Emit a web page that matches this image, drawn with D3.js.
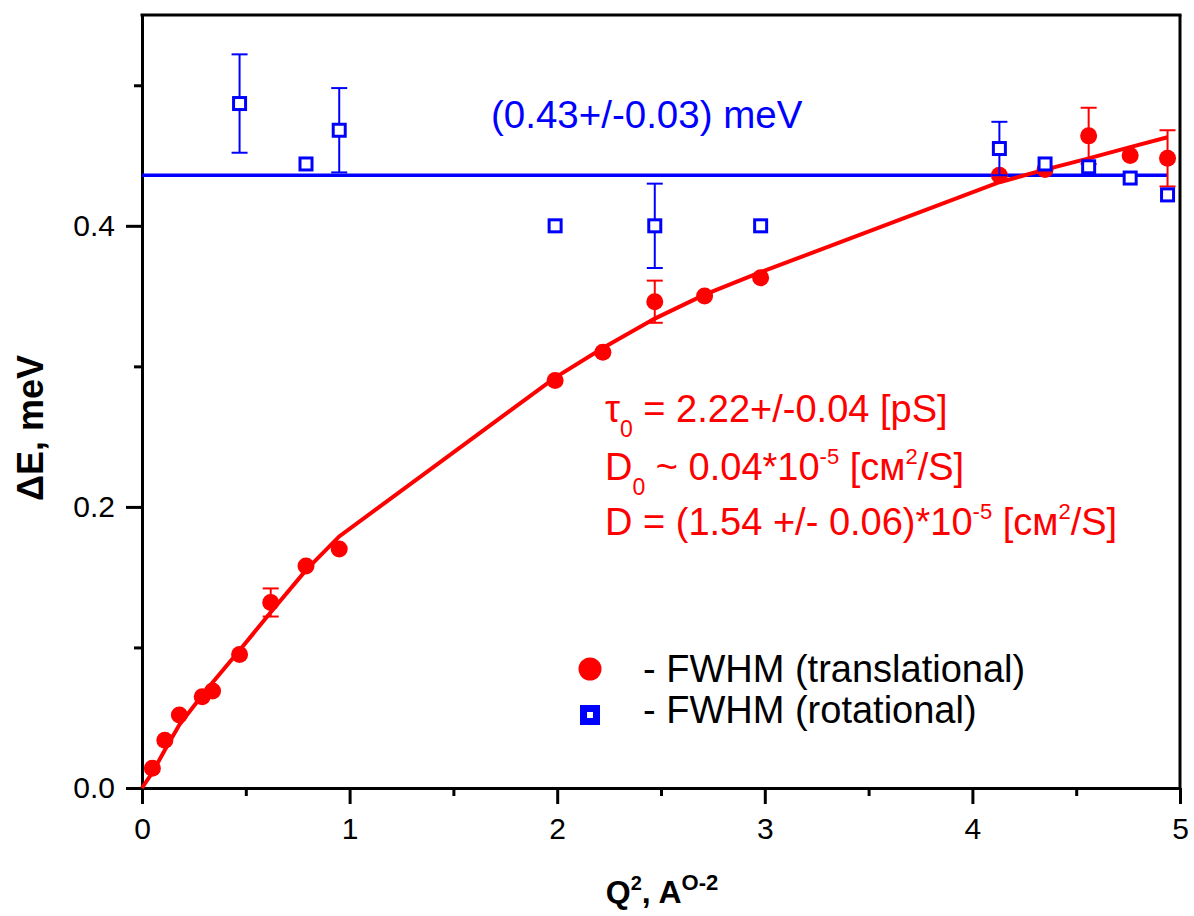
<!DOCTYPE html>
<html>
<head>
<meta charset="utf-8">
<script src="https://cdn.jsdelivr.net/npm/d3@7"></script>
<style>
  body { margin: 0; background: #fff; }
  svg { font-family: "Liberation Sans", Arial, sans-serif; }
</style>
</head>
<body>
<svg id="chart" width="1194" height="916"></svg>
<script>
// translational FWHM (red circles)
const transX = [0.05, 0.11, 0.18, 0.29, 0.34, 0.47, 0.62, 0.79, 0.95, 1.99, 2.22, 2.47, 2.71, 2.98, 4.13, 4.35, 4.56, 4.76, 4.94];
const transY = [0.014, 0.034, 0.052, 0.065, 0.069, 0.095, 0.132, 0.158, 0.170, 0.290, 0.310, 0.346, 0.350, 0.363, 0.436, 0.440, 0.464, 0.450, 0.448];
const transErr = [0, 0, 0, 0, 0, 0, 0.010, 0, 0, 0, 0, 0.015, 0, 0, 0, 0, 0.020, 0, 0.020];

// rotational FWHM (blue squares)
const rotX = [0.47, 0.79, 0.95, 1.99, 2.47, 2.98, 4.13, 4.35, 4.56, 4.76, 4.94];
const rotY = [0.487, 0.444, 0.468, 0.400, 0.400, 0.400, 0.455, 0.444, 0.442, 0.434, 0.422];
const rotErr = [0.035, 0, 0.030, 0, 0.030, 0, 0.019, 0, 0, 0, 0];

// fit curve for translational width
const fitX = [0, 0.05, 0.11, 0.18, 0.29, 0.34, 0.47, 0.62, 0.79, 0.95, 1.99, 2.22, 2.47, 2.71, 2.98, 4.13, 4.35, 4.56, 4.76, 4.94];
const fitY = [0, 0.011, 0.027, 0.045, 0.066, 0.075, 0.098, 0.125, 0.155, 0.179, 0.292, 0.313, 0.334, 0.351, 0.367, 0.431, 0.440, 0.448, 0.456, 0.463];

// constant level for rotational width
const rotLevel = 0.436;
const rotLevelX = [0, 4.94];

const xTicks = [0, 1, 2, 3, 4, 5];
const xMinor = [0.5, 1.5, 2.5, 3.5, 4.5];
const yTicks = [0, 0.2, 0.4];
const yMinor = [0.1, 0.3, 0.5];

const mLeft = 142, mRight = 1180, mTop = 15, mBottom = 788;
const red = '#ff0000', blue = '#0000ff';

const svg = d3.select('#chart');

const x = d3.scaleLinear().domain([0, 5]).range([mLeft, mRight]);
const y = d3.scaleLinear().domain([0, 0.55]).range([mBottom, mTop]);

// axes
svg.append('g')
    .attr('transform', `translate(0,${mBottom})`)
    .call(d3.axisBottom(x).tickValues(xTicks).tickFormat(d3.format('d'))
        .tickSize(16).tickSizeOuter(0).tickPadding(14));
svg.append('g')
    .attr('transform', `translate(0,${mBottom})`)
    .call(d3.axisBottom(x).tickValues(xMinor).tickFormat('').tickSize(8).tickSizeOuter(0))
    .select('.domain').remove();

svg.append('g')
    .attr('transform', `translate(${mLeft},0)`)
    .call(d3.axisLeft(y).tickValues(yTicks).tickFormat(d3.format('.1f'))
        .tickSize(16).tickSizeOuter(0).tickPadding(11));
svg.append('g')
    .attr('transform', `translate(${mLeft},0)`)
    .call(d3.axisLeft(y).tickValues(yMinor).tickFormat('').tickSize(8).tickSizeOuter(0))
    .select('.domain').remove();

svg.selectAll('.domain').attr('stroke', '#000').attr('stroke-width', 3);
svg.selectAll('.tick line').attr('stroke', '#000').attr('stroke-width', 3);
svg.selectAll('.tick text').attr('fill', '#000').style('font-size', '30px')
    .style('font-family', '"Liberation Sans", Arial, sans-serif');

// frame top & right
svg.append('line').attr('x1', mLeft - 1.5).attr('x2', mRight + 1.5).attr('y1', mTop).attr('y2', mTop)
    .attr('stroke', '#000').attr('stroke-width', 3);
svg.append('line').attr('x1', mRight).attr('x2', mRight).attr('y1', mTop).attr('y2', mBottom)
    .attr('stroke', '#000').attr('stroke-width', 3);

// rotational level line
svg.append('line')
    .attr('x1', x(rotLevelX[0])).attr('x2', x(rotLevelX[1]))
    .attr('y1', y(rotLevel)).attr('y2', y(rotLevel))
    .attr('stroke', blue).attr('stroke-width', 3.5);

// fit curve
const line = d3.line().x(d => x(d[0])).y(d => y(d[1]));
svg.append('path')
    .datum(fitX.map((v, i) => [v, fitY[i]]))
    .attr('d', line)
    .attr('fill', 'none').attr('stroke', red).attr('stroke-width', 4);

function errBars(xs, ys, es, color) {
    const g = svg.append('g').attr('stroke', color).attr('stroke-width', 2);
    xs.forEach((v, i) => {
        if (!es[i]) return;
        const cx = x(v), y1 = y(ys[i] - es[i]), y2 = y(ys[i] + es[i]);
        g.append('line').attr('x1', cx).attr('x2', cx).attr('y1', y1).attr('y2', y2);
        g.append('line').attr('x1', cx - 8).attr('x2', cx + 8).attr('y1', y1).attr('y2', y1);
        g.append('line').attr('x1', cx - 8).attr('x2', cx + 8).attr('y1', y2).attr('y2', y2);
    });
}

errBars(transX, transY, transErr, red);
svg.append('g').selectAll('circle')
    .data(transX.map((v, i) => [v, transY[i]]))
    .enter().append('circle')
    .attr('cx', d => x(d[0])).attr('cy', d => y(d[1]))
    .attr('r', 8.5).attr('fill', red);

errBars(rotX, rotY, rotErr, blue);
svg.append('g').selectAll('rect')
    .data(rotX.map((v, i) => [v, rotY[i]]))
    .enter().append('rect')
    .attr('x', d => x(d[0]) - 6).attr('y', d => y(d[1]) - 6)
    .attr('width', 12).attr('height', 12)
    .attr('fill', '#fff').attr('stroke', blue).attr('stroke-width', 3);

// axis titles
svg.append('text')
    .attr('x', 662).attr('y', 903)
    .attr('text-anchor', 'middle')
    .style('font-size', '32px').style('font-weight', 'bold')
    .html('Q<tspan dy="-13" font-size="20">2</tspan><tspan dy="13">, A</tspan><tspan dy="-13" font-size="22">O-2</tspan>');

svg.append('text')
    .attr('transform', 'translate(43,428) rotate(-90)')
    .attr('text-anchor', 'middle')
    .style('font-size', '36px').style('font-weight', 'bold')
    .text('\u0394E, meV');

// rotational annotation
svg.append('text')
    .attr('x', 491).attr('y', 128)
    .attr('fill', blue).style('font-size', '38.5px')
    .text('(0.43+/-0.03) meV');

// fit parameters
const ann = svg.append('g').attr('fill', red).style('font-size', '38px');
ann.append('text').attr('x', 605).attr('y', 422)
    .html('\u03c4<tspan dy="15" font-size="23">0</tspan><tspan dy="-15"> = 2.22+/-0.04 [pS]</tspan>');
ann.append('text').attr('x', 605).attr('y', 480)
    .html('D<tspan dy="15" font-size="23">0</tspan><tspan dy="-15"> ~ 0.04*10</tspan><tspan dy="-16" font-size="22">-5</tspan><tspan dy="16"> [см</tspan><tspan dy="-16" font-size="22">2</tspan><tspan dy="16">/S]</tspan>');
ann.append('text').attr('x', 605).attr('y', 535)
    .html('D = (1.54 +/- 0.06)*10<tspan dy="-16" font-size="22">-5</tspan><tspan dy="16"> [см</tspan><tspan dy="-16" font-size="22">2</tspan><tspan dy="16">/S]</tspan>');

// legend
const leg = svg.append('g');
leg.append('circle').attr('cx', 590).attr('cy', 669).attr('r', 11.5).attr('fill', red);
leg.append('rect').attr('x', 583.5).attr('y', 708.5).attr('width', 13).attr('height', 13)
    .attr('fill', '#fff').attr('stroke', blue).attr('stroke-width', 7);
leg.append('text').attr('x', 643).attr('y', 682).style('font-size', '38px').text('- FWHM (translational)');
leg.append('text').attr('x', 643).attr('y', 723).style('font-size', '38px').text('- FWHM (rotational)');
</script>
</body>
</html>
